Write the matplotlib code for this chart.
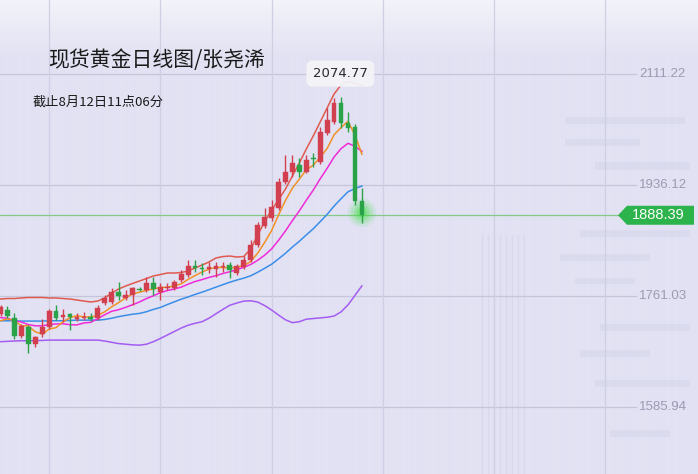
import numpy as np
import matplotlib
matplotlib.use('Agg')
import matplotlib.pyplot as plt
from matplotlib.patches import Polygon, Rectangle

plt.rcParams['font.family'] = ['Noto Sans CJK SC', 'DejaVu Sans']

title = '现货黄金日线图/张尧浠'
subtitle = '截止8月12日11点06分'

opens = [1733, 1739, 1726, 1698, 1712, 1685, 1701, 1712, 1737, 1728,
         1733, 1725, 1727, 1728, 1726, 1750, 1751.6, 1767.3, 1758, 1762.6,
         1772, 1770.5, 1781.5, 1767.3, 1774, 1773.6, 1786.3, 1794.2, 1808, 1805,
         1803, 1803.7, 1807, 1810, 1797, 1807.3, 1817.8, 1841.5, 1871.5, 1883.6,
         1899.4, 1941.3, 1957, 1967.6, 1957.1, 1979, 1972.9, 2017.7, 2036, 2065,
         2034.4, 2027.6, 1911]
highs = [1747, 1745, 1734, 1717, 1716, 1698, 1725, 1740, 1747, 1740,
         1735, 1734, 1736, 1734, 1747, 1762.6, 1773.6, 1783, 1770.5, 1776,
         1776, 1791, 1791, 1781.5, 1781, 1786, 1802, 1817.8, 1817.8, 1813,
         1815, 1815, 1815, 1815, 1811, 1824, 1849.4, 1878.3, 1899.4, 1912.5,
         1946.7, 1983.5, 1983.5, 1978, 1983.5, 1986, 2028, 2057, 2072.9, 2074.77,
         2051.8, 2032.5, 1931]
lows = [1730, 1726, 1693, 1695, 1671, 1681, 1696, 1709, 1723, 1720,
        1707, 1721, 1723, 1721, 1723, 1746.8, 1748.4, 1754.7, 1754.7, 1747,
        1769, 1767, 1762.6, 1754.7, 1770, 1770, 1783, 1791, 1798.9, 1794,
        1797, 1791.5, 1799, 1789, 1794, 1804, 1815, 1838, 1868, 1880,
        1896.7, 1938, 1949, 1949.2, 1955, 1965, 1969, 2015, 2033, 2026,
        2020.2, 1904.6, 1876]
closes = [1744, 1729.5, 1698, 1714, 1685, 1696, 1712, 1737, 1726, 1731,
          1728, 1728, 1728, 1725, 1742, 1758, 1767.3, 1761, 1762.6, 1773.6,
          1771, 1781.5, 1772, 1775.2, 1774.6, 1783.1, 1795.7, 1808.4, 1804.6, 1803,
          1806, 1808.4, 1807.5, 1802, 1808.8, 1817.8, 1841.5, 1873, 1886.1, 1901.9,
          1941.3, 1957.1, 1970.3, 1957.1, 1975.6, 1977, 2020.2, 2038.7, 2065, 2033.5,
          2025.6, 1911, 1888.39]

ma5 = [1722, 1725, 1722, 1714, 1714.1, 1704.5, 1701, 1708.8, 1711.2, 1720.4,
       1726.8, 1730, 1728.2, 1728, 1730.2, 1736.2, 1744, 1750.6, 1758.1, 1764.4,
       1767, 1769.9, 1772.1, 1774.6, 1774.8, 1777.2, 1780.1, 1787.3, 1793.3, 1798.9,
       1803.5, 1806.1, 1805.9, 1805.4, 1806.5, 1808.9, 1815.5, 1828.6, 1845.4, 1864.1,
       1888.7, 1911.8, 1931.2, 1945.4, 1960.1, 1967.3, 1979.9, 1993.7, 2015.3, 2026.8,
       2036.6, 2014.8, 1984.7]
ma10 = [1727, 1726, 1722, 1720, 1716, 1714, 1714, 1716, 1717, 1717.3,
        1715.7, 1715.5, 1718.5, 1719.6, 1725.3, 1731.5, 1737, 1739.4, 1743.1, 1747.3,
        1751.6, 1757, 1761.4, 1766.4, 1769.6, 1772.1, 1775, 1779.7, 1783.9, 1786.9,
        1790.4, 1793.1, 1796.6, 1799.3, 1802.7, 1806.2, 1810.8, 1817.3, 1825.4, 1835.3,
        1848.8, 1863.7, 1879.9, 1895.4, 1912.1, 1928, 1945.9, 1962.4, 1980.3, 1993.5,
        2001.9, 1997.3, 1989.2]
ma20 = [1722, 1722, 1722, 1721.5, 1721.5, 1721.5, 1721.5, 1722, 1722, 1722,
        1722.5, 1723, 1723, 1723, 1723, 1724, 1726, 1728.5, 1730.5, 1732.3,
        1733.6, 1736.2, 1739.9, 1743, 1747.5, 1751.8, 1756, 1759.6, 1763.5, 1767.1,
        1771, 1775, 1779, 1782.8, 1786.2, 1789.2, 1792.9, 1798.5, 1804.7, 1811.1,
        1819.6, 1828.4, 1838.3, 1847.4, 1857.4, 1867.1, 1878.3, 1889.8, 1902.9, 1914.4,
        1925.4, 1930.5, 1934.5]
boll_up = [1756.3, 1757.1, 1757.1, 1757.9, 1758.7, 1758.7, 1758.7, 1757.9, 1757.9, 1757.1,
           1756.3, 1754.7, 1753.1, 1751.6, 1753.1, 1757.9, 1765.8, 1772.1, 1776.8, 1780.8,
           1784.7, 1788.6, 1792.6, 1794.9, 1797.3, 1797.3, 1798.1, 1800.5, 1805.2, 1809.9,
           1814.7, 1821.0, 1823.3, 1824.1, 1822.5, 1823.3, 1835.2, 1857.2, 1877.8, 1896.7,
           1912.5, 1929.8, 1950.3, 1970.8, 1992.9, 2013.4, 2035.5, 2057.6, 2079.7, 2093.9,
           2099.4, 2097.0, 2093.1]
boll_dn = [1689, 1689.5, 1690, 1690.5, 1690.5, 1690.5, 1691, 1691.5, 1691.5, 1691.5,
           1691.5, 1691.5, 1691.5, 1691.5, 1691.5, 1690, 1688, 1686, 1685, 1684,
           1683.5, 1685, 1689, 1694, 1699.5, 1705, 1710.5, 1715, 1718, 1720.5,
           1726, 1733, 1740, 1746.5, 1750, 1753, 1753.5, 1751.5, 1746, 1739,
           1731, 1723.5, 1719, 1720.5, 1724.5, 1725.5, 1726.5, 1727.5, 1729.5, 1736,
           1747, 1762, 1777]

grid_levels = [2111.22, 1936.12, 1761.03, 1585.94]
vgrid_bars = [7, 23, 39, 55, 71, 87]
last_price = 1888.39

W, H = 698, 474
fig = plt.figure(figsize=(W / 100, H / 100), dpi=100)
ax = fig.add_axes([0, 0, 1, 1])
bar_px = 6.95
x0_px = 0.5
xmin = -x0_px / bar_px
xmax = (W - x0_px) / bar_px
ymin, ymax = 1480.3, 2227.9

# background gradient
rows = np.linspace(0, 1, H)
top = np.array([243, 243, 250]) / 255.0
base = np.array([226, 226, 243]) / 255.0
t = np.clip(rows * H / 55.0, 0, 1)[:, None]
grad = top * (1 - t) + base * t
img = np.repeat(grad[:, None, :], 2, axis=1)
ax.imshow(img, extent=[0, 1, 0, 1], transform=ax.transAxes, aspect='auto', zorder=0)

# faint watermark shapes (background texture)
wm = '#d6d6ea'
for (x, y, w, h) in [(565, 117, 120, 7), (565, 139, 75, 7), (595, 162, 95, 8),
                     (580, 230, 110, 7), (560, 254, 90, 7), (575, 278, 60, 6),
                     (600, 324, 90, 7), (580, 350, 70, 7), (595, 380, 95, 7),
                     (610, 430, 60, 7)]:
    ax.add_patch(Rectangle((x / W, 1 - (y + h) / H), w / W, h / H, transform=ax.transAxes,
                           facecolor=wm, edgecolor='none', alpha=0.55, zorder=0.5))
for xv in [482, 488, 494, 500, 506, 512, 518, 524]:
    ax.plot([xv / W, xv / W], [0, 1 - 235 / H], transform=ax.transAxes,
            color='#d3d3e8', lw=1.0, alpha=0.6, zorder=0.5)

# grid
for lv in grid_levels:
    ax.axhline(lv, xmin=0, xmax=636 / W, color='#c4c4da', lw=0.9, zorder=1)
for vb in vgrid_bars:
    ax.axvline(vb, color='#cfcfe4', lw=0.9, zorder=1)

x = np.arange(len(closes))

# indicator lines
ax.plot(x, boll_up, color='#e05a4e', lw=1.1, zorder=3)
ax.plot(x, boll_dn, color='#a45cf2', lw=1.1, zorder=3)
ax.plot(x, ma20, color='#3b8ee8', lw=1.1, zorder=3)
ax.plot(x, ma10, color='#f02ad8', lw=1.1, zorder=3)
ax.plot(x, ma5, color='#f29026', lw=1.1, zorder=3)

# last price line
ax.axhline(last_price, xmin=0, xmax=620 / W, color='#86c886', lw=0.9, zorder=2)

# glow around last candle
for s, a in [(420, 0.10), (260, 0.16), (140, 0.22), (60, 0.30)]:
    ax.scatter([x[-1]], [last_price + 4], s=s, color='#38e03a', alpha=a,
               edgecolors='none', zorder=4)

# candles
red, green = '#d2404f', '#2aa348'
for i in range(len(closes)):
    o, h, l, c = opens[i], highs[i], lows[i], closes[i]
    col = red if c >= o else green
    ax.vlines(x[i], l, h, color=col, lw=1.0, zorder=5)
    body = max(abs(c - o), 1.4)
    ax.bar(x[i], body, bottom=min(o, c) - (body - abs(c - o)) / 2, width=0.68,
           color=col, edgecolor=col, lw=0.3, zorder=6)

# max annotation
imax = int(np.argmax(highs))
ax.text(x[imax] - 0.1, highs[imax] + 37, f'{highs[imax]:.2f}', ha='center', va='center',
        fontsize=9.5, color='#2a2a2a', family=['DejaVu Sans'], zorder=8,
        bbox=dict(boxstyle='round,pad=0.5', fc='#f3f3f8', ec='none', alpha=0.95))

ax.set_xlim(xmin, xmax)
ax.set_ylim(ymin, ymax)
ax.axis('off')

# right axis labels
for lv in grid_levels:
    yf = (lv - ymin) / (ymax - ymin)
    fig.text(639 / W, yf, f'{lv:.2f}', ha='left', va='center', fontsize=9.5,
             color='#9a9ab2', family=['Liberation Sans', 'DejaVu Sans'])

# last price tag
yf = (last_price - ymin) / (ymax - ymin)
hh = 9.5 / H
tag = Polygon([(618 / W, yf), (627 / W, yf + hh), (694 / W, yf + hh),
               (694 / W, yf - hh), (627 / W, yf - hh)], closed=True,
              transform=fig.transFigure, facecolor='#2db34b', edgecolor='none', zorder=10)
fig.patches.append(tag)
fig.text(658 / W, yf, f'{last_price:.2f}', ha='center', va='center', fontsize=10.5,
         color='white', family=['Liberation Sans', 'DejaVu Sans'], zorder=11)

# titles
fig.text(48 / W, 1 - 60 / H, title, ha='left', va='center', fontsize=15, color='#1a1a1a')
fig.text(33 / W, 1 - 102 / H, subtitle, ha='left', va='center', fontsize=9.5, color='#1a1a1a')

fig.savefig('out.png', dpi=100)
